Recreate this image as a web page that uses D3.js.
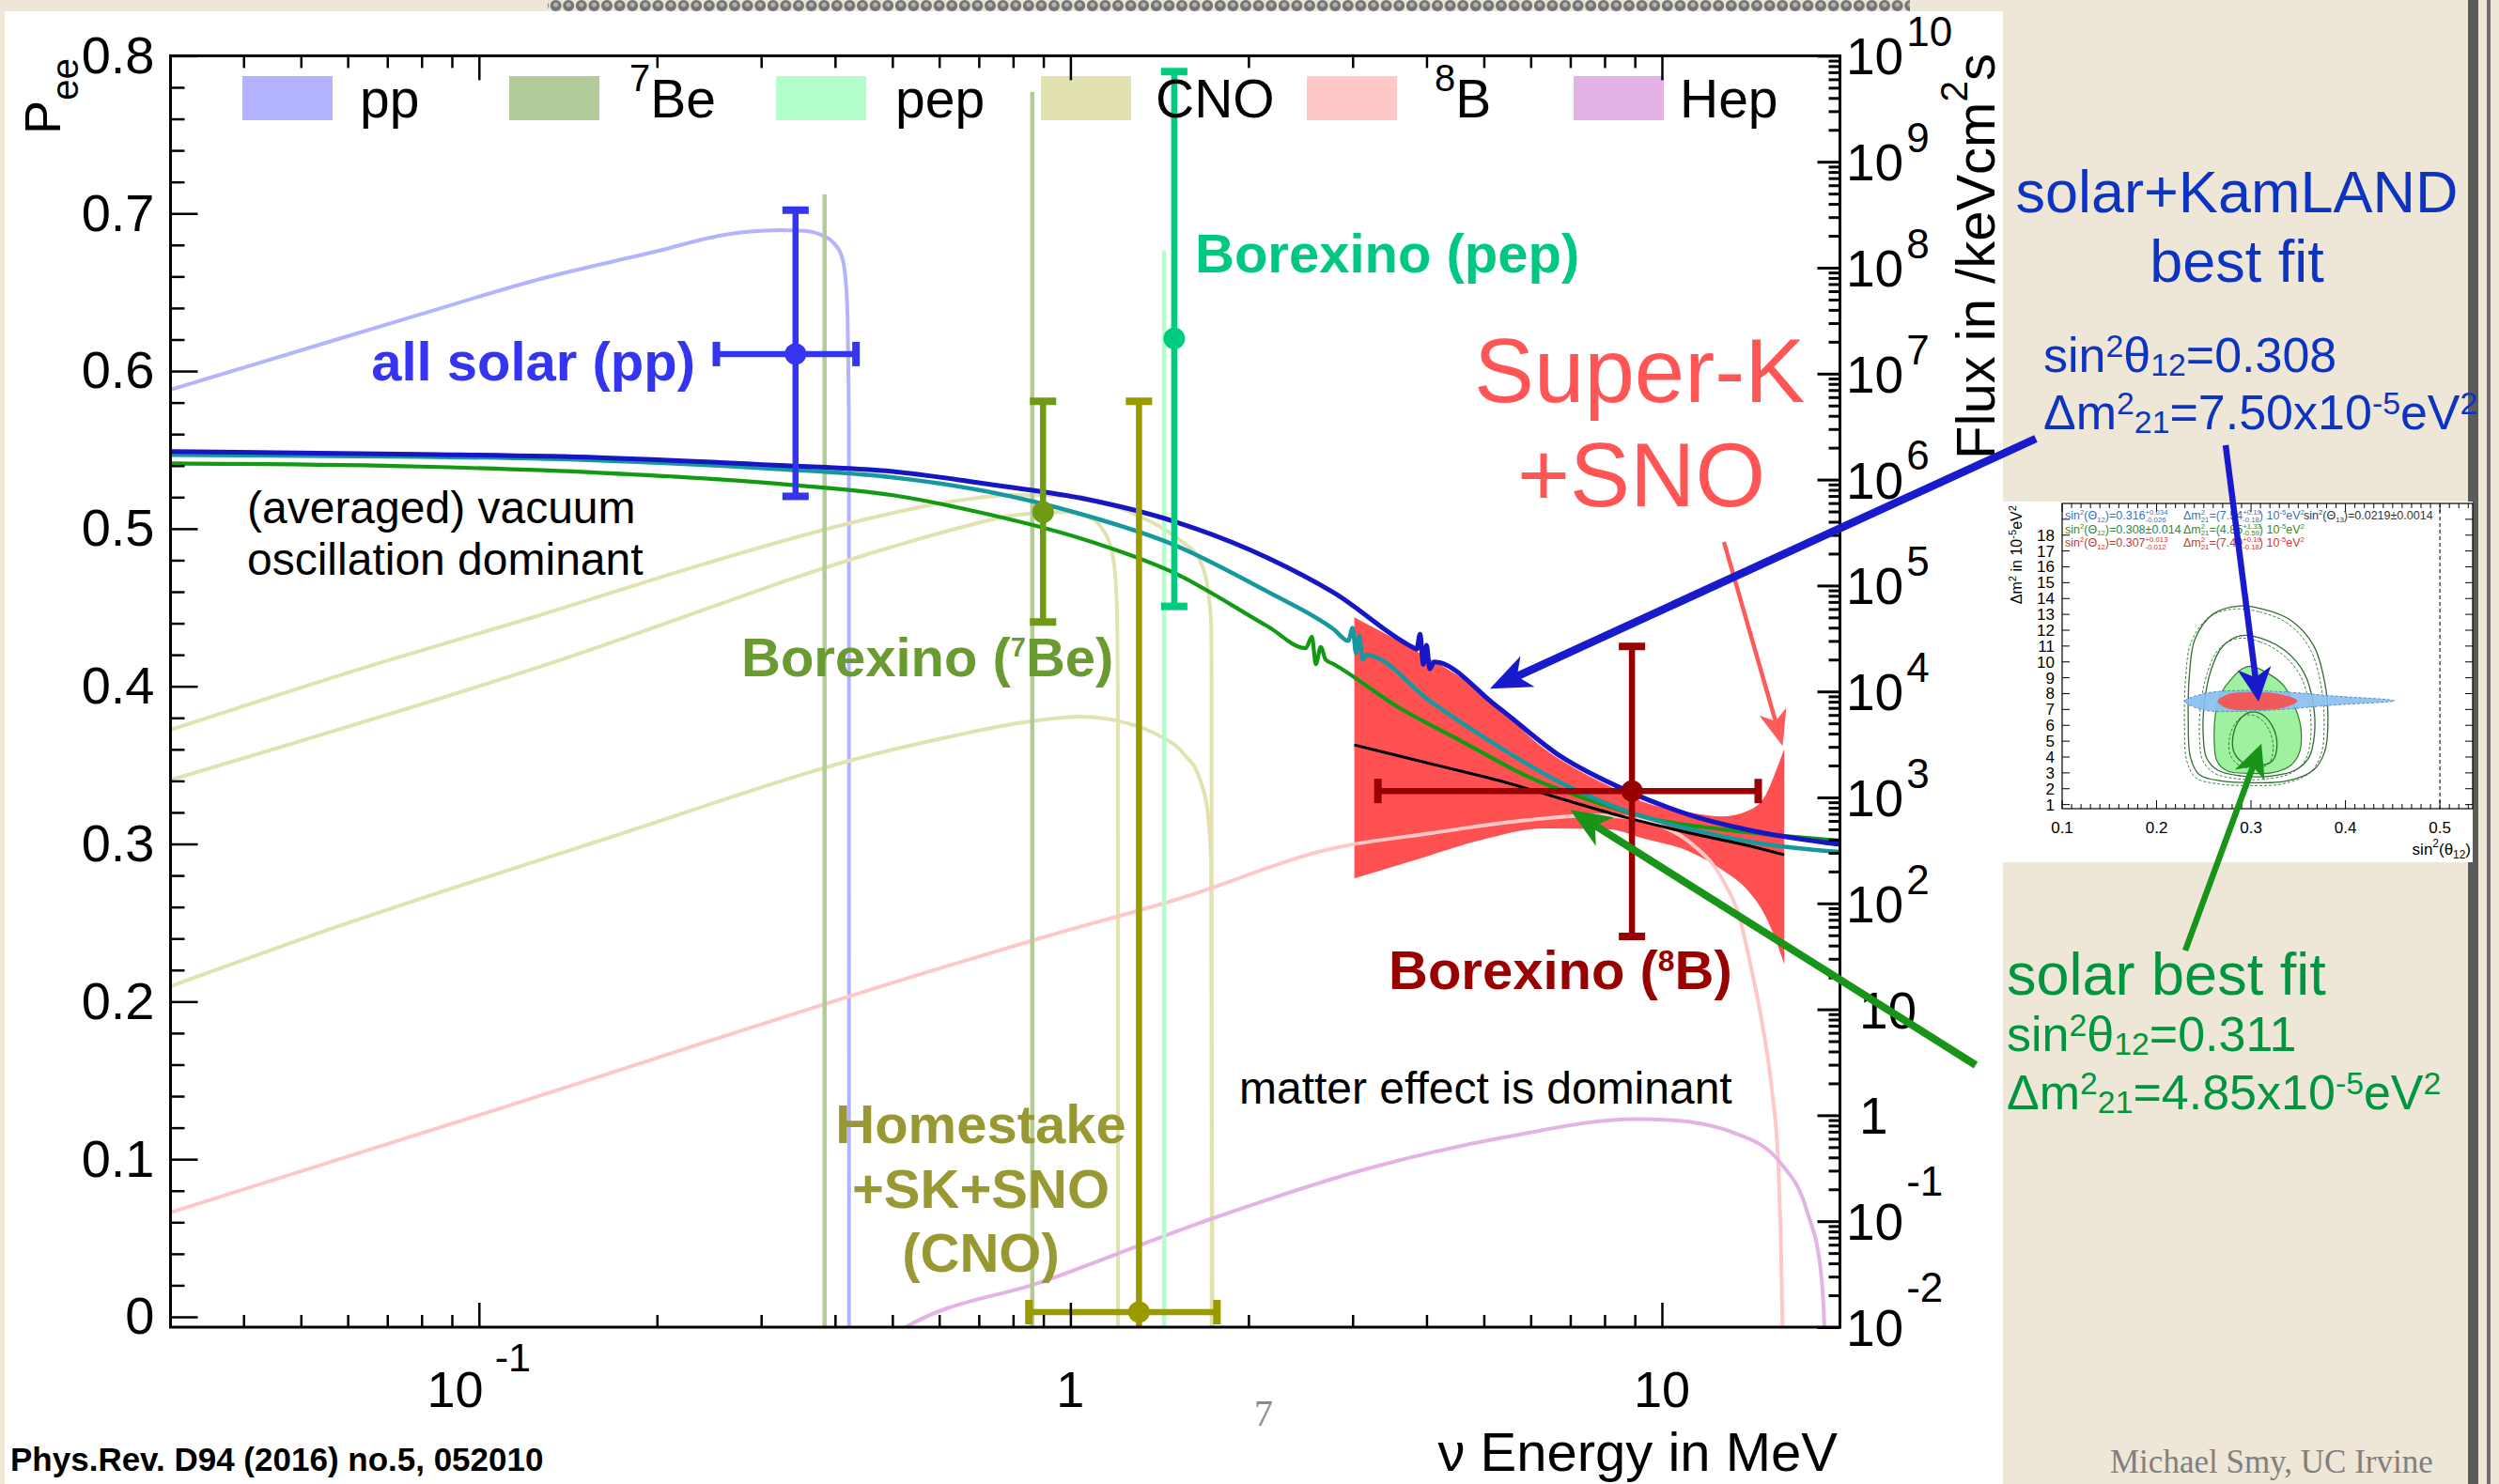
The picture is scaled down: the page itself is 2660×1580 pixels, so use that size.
<!DOCTYPE html>
<html>
<head>
<meta charset="utf-8">
<script src="https://cdn.jsdelivr.net/npm/d3@7"></script>
<style>
  html, body { margin: 0; padding: 0; background: #eee6d6; }
  svg { display: block; }
  text { white-space: pre; }
</style>
</head>
<body>
<svg id="chart" width="2660" height="1580"></svg>
<script>
// ---------------- data ----------------
// Solar neutrino flux spectra (right axis, /keV cm^2 s) versus energy (MeV)
const ppE      = [0.0301, 0.05, 0.0794, 0.127, 0.202, 0.255, 0.287, 0.322, 0.354, 0.379, 0.397, 0.410, 0.4164, 0.4200, 0.4215, 0.4222, 0.4225];
const ppFlux   = [7.05e6, 1.66e7, 3.61e7, 7.83e7, 1.45e8, 2.0e8, 2.19e8, 2.26e8, 2.23e8, 2.04e8, 1.73e8, 1.31e8, 8.15e7, 3.39e7, 8.6e6, 3.1e6, 1e-3];
const be7E     = [0.384, 0.862];
const be7Flux  = [4.91e8, 4.55e9];
const pepE     = [1.44];
const pepFlux  = [1.45e8];
const o15E     = [0.0301, 0.0671, 0.1268, 0.2413, 0.4175, 0.6017, 0.806, 1.004, 1.175, 1.41, 1.539, 1.656, 1.705, 1.730, 1.7325, 1.733];
const o15Flux  = [4.35e3, 1.82e4, 5.25e4, 1.61e5, 3.80e5, 5.96e5, 7.16e5, 7.01e5, 5.71e5, 3.65e5, 2.63e5, 1.71e5, 9.68e4, 4.28e4, 1.39e4, 1e-3];
const n13E     = [0.0301, 0.1268, 0.501, 0.640, 0.815, 0.978, 1.068, 1.132, 1.175, 1.192, 1.200, 1.203, 1.2035];
const n13Flux  = [1.46e3, 1.71e4, 2.33e5, 3.43e5, 4.66e5, 4.95e5, 4.48e5, 3.43e5, 2.10e5, 1.14e5, 4.46e4, 9.25e3, 1e-3];
const f17E     = [0.0301, 0.05, 0.1602, 0.501, 0.640, 0.815, 1.041, 1.25, 1.41, 1.556, 1.656, 1.705, 1.730, 1.741];
const f17Flux  = [16.5, 45.8, 391, 2.83e3, 3.85e3, 5.01e3, 5.78e3, 5.01e3, 3.85e3, 2.56e3, 1.47e3, 752, 235, 1e-3];
const b8E      = [0.0301, 0.1004, 0.6017, 0.899, 1.506, 2.79, 4.07, 5.95, 7.66, 8.67, 9.86, 11.16, 12.68, 13.5, 14.15, 14.78, 15.34, 15.73, 15.9, 16.0];
const b8Flux   = [0.121, 1.01, 24.4, 47.8, 108, 332, 460, 612, 679, 652, 553, 375, 166, 76.4, 24.8, 7.29, 1.75, 0.342, 0.0545, 0.0087];
const hepE     = [0.45, 0.5255, 0.899, 1.711, 3.245, 5.42, 9.06, 10.3, 13.3, 15.9, 17.62, 18.55, 18.82, 18.85];
const hepFlux  = [0.0055, 0.0099, 0.027, 0.103, 0.323, 0.62, 0.92, 0.90, 0.675, 0.35, 0.121, 0.0347, 0.0101, 0.001];

// Survival probability curves (left axis)
const kamlandE   = [0.0301, 0.0794, 0.160, 0.322, 0.501, 0.723, 1.041, 1.50, 2.16, 2.79, 3.82, 3.85, 3.90, 3.95, 4.00, 4.05, 4.12, 5.24, 6.74, 8.67, 11.2, 14.4, 20];
const kamlandPee = [0.5490, 0.5472, 0.5451, 0.5402, 0.5363, 0.5284, 0.5194, 0.5045, 0.4813, 0.4593, 0.4241, 0.4235, 0.433, 0.414, 0.426, 0.411, 0.4154, 0.3878, 0.3556, 0.3342, 0.3181, 0.3079, 0.2997];
const globalE    = [0.0301, 0.0794, 0.160, 0.322, 0.501, 0.723, 1.041, 1.50, 2.16, 2.79, 2.95, 3.0, 3.04, 3.08, 3.12, 3.16, 4.07, 5.24, 6.74, 8.67, 11.2, 14.4, 20];
const globalPee  = [0.5468, 0.5457, 0.5433, 0.5378, 0.5325, 0.5236, 0.5093, 0.4896, 0.4598, 0.4360, 0.4288, 0.437, 0.421, 0.432, 0.417, 0.4199, 0.3901, 0.3628, 0.3389, 0.3211, 0.3092, 0.3008, 0.2949];
const solarE     = [0.0301, 0.0794, 0.160, 0.322, 0.501, 0.723, 1.041, 1.50, 2.16, 2.5, 2.56, 2.6, 2.65, 2.7, 2.79, 3.59, 4.62, 5.95, 7.66, 9.86, 12.7, 16.3, 20];
const solarPee   = [0.5414, 0.5394, 0.5355, 0.5284, 0.5212, 0.5093, 0.4938, 0.4718, 0.4378, 0.4242, 0.4315, 0.414, 0.425, 0.417, 0.4140, 0.3866, 0.3645, 0.3425, 0.3270, 0.3151, 0.3092, 0.3049, 0.3020];
const skSnoE     = [3.02, 4.07, 5.24, 6.74, 8.67, 11.2, 14.4, 16.1];
const skSnoPee   = [0.3628, 0.3508, 0.3407, 0.3288, 0.3169, 0.3067, 0.2978, 0.2931];
// Super-K + SNO allowed band
const bandE  = [3.02, 3.82, 4.92, 6.33, 8.15, 9.25, 11.2, 12.7, 14.0, 14.95, 15.6, 16.1];
const bandHi = [0.4437, 0.4229, 0.3973, 0.3604, 0.3366, 0.3270, 0.3199, 0.3175, 0.3211, 0.3305, 0.3467, 0.3604];
const bandLo = [0.2781, 0.2897, 0.3022, 0.3098, 0.3092, 0.3037, 0.2947, 0.2831, 0.2701, 0.2545, 0.2385, 0.2234];

// Measurements
const measNames = ["pp", "7Be", "pep", "CNO", "8B"];
const measE   = [0.343, 0.899, 1.498, 1.306, 8.9];
const measELo = [0.252, null, null, 0.851, 3.31];
const measEHi = [0.434, null, null, 1.769, 14.55];
const measP   = [0.6108, 0.5105, 0.6207, 0.003, 0.3336];
const measPLo = [0.5205, 0.4408, 0.4507, -0.6, 0.2413];
const measPHi = [0.7021, 0.5808, 0.7899, 0.5808, 0.4253];

// Legend
const legendLabels = ["pp", "^{7}Be", "pep", "CNO", "^{8}B", "Hep"];
const legendColors = ["#b3b3ff", "#b3cb98", "#b3ffcc", "#e2e2b0", "#ffc8c8", "#e4b2e4"];

// Axis ticks
const pTicks = [0, 0.1, 0.2, 0.3, 0.4, 0.5, 0.6, 0.7, 0.8];
const pTickLabels = ["0", "0.1", "0.2", "0.3", "0.4", "0.5", "0.6", "0.7", "0.8"];
const energyTicks = [0.1, 1, 10];
const energyTickLabels = ["10^{-1}", "1", "10"];
const fluxExponents = [-2, -1, 0, 1, 2, 3, 4, 5, 6, 7, 8, 9, 10];
const fluxTickLabels = ["10^{-2}", "10^{-1}", "1", "10", "10^{2}", "10^{3}", "10^{4}", "10^{5}", "10^{6}", "10^{7}", "10^{8}", "10^{9}", "10^{10}"];

// Oscillation-parameter contours (inset): [sin^2 theta12, dm^2 in 1e-5 eV^2]
const insetSin2Ticks = [0.1, 0.2, 0.3, 0.4, 0.5];
const insetDm2Ticks = [1, 2, 3, 4, 5, 6, 7, 8, 9, 10, 11, 12, 13, 14, 15, 16, 17, 18];
const solarFill = [[0.2995, 9.72], [0.3178, 9.28], [0.3347, 8.50], [0.3467, 7.11], [0.3525, 5.93], [0.3516, 4.35], [0.3419, 3.47], [0.3227, 3.01], [0.2986, 2.97], [0.2745, 3.13], [0.2639, 3.76], [0.261, 5.14], [0.2624, 6.72], [0.2672, 7.90], [0.2817, 9.09], [0.2913, 9.58]];
const solar3s = [[0.2865, 13.52], [0.313, 13.33], [0.3419, 12.64], [0.366, 11.06], [0.3781, 8.69], [0.3814, 6.33], [0.3781, 4.35], [0.366, 3.17], [0.3371, 2.48], [0.3034, 2.38], [0.2696, 2.48], [0.2455, 2.87], [0.2359, 3.96], [0.2335, 6.33], [0.2349, 9.28], [0.2407, 11.45], [0.26, 13.03]];
const solar2s = [[0.2889, 11.65], [0.313, 11.45], [0.3371, 10.66], [0.3564, 9.28], [0.366, 7.31], [0.367, 5.34], [0.3612, 3.96], [0.3467, 3.17], [0.3178, 2.78], [0.2889, 2.81], [0.2648, 3.17], [0.2528, 3.96], [0.2494, 5.34], [0.2504, 7.31], [0.2576, 9.48], [0.2696, 10.96]];
const solar1s = [[0.2986, 6.82], [0.3106, 6.72], [0.3227, 5.93], [0.3275, 4.75], [0.3227, 3.76], [0.3082, 3.47], [0.2913, 3.66], [0.2817, 4.35], [0.2817, 5.54], [0.2889, 6.43]];
const kamlandFill = [[0.2301, 7.51], [0.2504, 8.0], [0.2889, 8.20], [0.3371, 8.10], [0.3853, 7.86], [0.4518, 7.55], [0.3853, 7.27], [0.3371, 7.02], [0.2889, 6.88], [0.2504, 6.96]];
const combinedFill = [[0.2648, 7.51], [0.2745, 7.94], [0.3034, 8.10], [0.3323, 7.94], [0.3492, 7.55], [0.3347, 7.11], [0.3034, 6.96], [0.2745, 7.07]];
const bestFitSin2 = [0.308, 0.311];   // solar+KamLAND, solar only
const bestFitDm2  = [7.50, 4.85];

// ---------------- drawing ----------------
const FONT = '"Liberation Sans", Arial, Helvetica, sans-serif';
const SERIF = '"Liberation Serif", "Times New Roman", serif';
const svg = d3.select("#chart");
const defs = svg.append("defs");

function parseRich(s) {
  const parts = []; const re = /([\^_])\{([^}]*)\}/g; let last = 0, m;
  while ((m = re.exec(s))) {
    if (m.index > last) parts.push({ t: s.slice(last, m.index) });
    parts.push({ t: m[2], sup: m[1] === "^", sub: m[1] === "_" });
    last = re.lastIndex;
  }
  if (last < s.length) parts.push({ t: s.slice(last) });
  return parts;
}
function richText(parent, str, x, y, o) {
  const t = parent.append("text").attr("x", x).attr("y", y)
    .attr("font-size", o.size).attr("fill", o.fill || "#000")
    .attr("font-weight", o.weight || "normal")
    .attr("text-anchor", o.anchor || "start")
    .attr("font-family", o.family || FONT);
  if (o.transform) t.attr("transform", o.transform);
  let cur = 0, prev = null;
  parseRich(str).forEach(p => {
    const ts = t.append("tspan").text(p.t);
    let target = 0, fs = o.size;
    if (p.sup) { target = -(o.supRise ?? 0.4) * o.size; fs = (o.supScale ?? 0.7) * o.size; }
    else if (p.sub) { target = (o.subDrop ?? 0.2) * o.size; fs = (o.subScale ?? 0.7) * o.size; }
    ts.attr("font-size", fs);
    if (target - cur !== 0) ts.attr("dy", target - cur);
    let dx = 0;
    if (p.sup && o.supDx) dx += o.supDx;
    if (p.sub && prev && prev.p.sup && o.stack) dx -= prev.node.getComputedTextLength();
    if (dx) ts.attr("dx", dx);
    cur = target; prev = { p, node: ts.node() };
  });
  return t;
}

// slide background, bead border and white panel
svg.append("rect").attr("width", 2660).attr("height", 1580).attr("fill", "#eee6d6");
const bead = defs.append("pattern").attr("id", "bead").attr("width", 13.6).attr("height", 14).attr("patternUnits", "userSpaceOnUse");
bead.append("circle").attr("cx", 6.8).attr("cy", 6).attr("r", 6).attr("fill", "#737373");
bead.append("circle").attr("cx", 6.8).attr("cy", 5).attr("r", 2.6).attr("fill", "#b5b5b5");
svg.append("rect").attr("x", 583).attr("y", 0).attr("width", 1450).attr("height", 13).attr("fill", "url(#bead)");
svg.append("rect").attr("x", 2627).attr("y", 0).attr("width", 11).attr("height", 1580).attr("fill", "#5b5b5b");
svg.append("rect").attr("x", 2647).attr("y", 0).attr("width", 4).attr("height", 1580).attr("fill", "#6e6e6e");
svg.append("rect").attr("x", 5).attr("y", 12).attr("width", 2127).attr("height", 1568).attr("fill", "#fff");

// scales
const X0 = 181.5, X1 = 1958.5, Y0 = 59.4, Y1 = 1413;
const x = d3.scaleLog().domain([0.0301, 20]).range([X0, X1]);
const yP = d3.scaleLinear().domain([0, 0.8]).range([1402, Y0]);
const yF = d3.scaleLog().domain([1e-2, 1e10]).range([Y1, Y0]);

defs.append("clipPath").attr("id", "plotClip").append("rect")
  .attr("x", X0).attr("y", Y0).attr("width", X1 - X0).attr("height", Y1 - Y0);
const plot = svg.append("g").attr("clip-path", "url(#plotClip)");

// Super-K + SNO band
const bandData = bandE.map((e, i) => ({ E: e, lo: bandLo[i], hi: bandHi[i] }));
plot.append("path").datum(bandData)
  .attr("d", d3.area().x(d => x(d.E)).y0(d => yP(d.lo)).y1(d => yP(d.hi)).curve(d3.curveMonotoneX))
  .attr("fill", "#ff5151");

// flux spectra
const fluxLine = d3.line().x(d => x(d[0])).y(d => yF(d[1])).curve(d3.curveMonotoneX);
const spectra = [
  [ppE, ppFlux, legendColors[0]],
  [o15E, o15Flux, legendColors[3]],
  [n13E, n13Flux, legendColors[3]],
  [f17E, f17Flux, legendColors[3]],
  [b8E, b8Flux, legendColors[4]],
  [hepE, hepFlux, legendColors[5]]
];
spectra.forEach(([E, F, c]) => {
  plot.append("path").datum(E.map((e, i) => [e, F[i]]))
    .attr("d", fluxLine).attr("fill", "none").attr("stroke", c).attr("stroke-width", 4);
});
be7E.forEach((e, i) => {
  plot.append("line").attr("x1", x(e)).attr("x2", x(e)).attr("y1", yF(be7Flux[i])).attr("y2", Y1)
    .attr("stroke", legendColors[1]).attr("stroke-width", 4.5);
});
pepE.forEach((e, i) => {
  plot.append("line").attr("x1", x(e)).attr("x2", x(e)).attr("y1", yF(pepFlux[i])).attr("y2", Y1)
    .attr("stroke", legendColors[2]).attr("stroke-width", 4.5);
});

// legend
const legendBoxX = [258, 542, 826, 1108, 1391, 1675];
const legendTextDx = [125, 128, 127, 122, 136, 113];
legendLabels.forEach((lab, i) => {
  svg.append("rect").attr("x", legendBoxX[i]).attr("y", 81).attr("width", 96).attr("height", 47).attr("fill", legendColors[i]);
  richText(svg, lab, legendBoxX[i] + legendTextDx[i], 125, { size: 57, supScale: 0.7, supRise: 0.5 });
});

// survival-probability curves
const peeLine = d3.line().x(d => x(d[0])).y(d => yP(d[1])).curve(d3.curveMonotoneX);
const peeCurves = [
  [solarE, solarPee, "#129a12", 4.2],
  [globalE, globalPee, "#16999e", 4.5],
  [kamlandE, kamlandPee, "#1616c4", 5],
  [skSnoE, skSnoPee, "#000", 3]
];
peeCurves.forEach(([E, P, c, w]) => {
  plot.append("path").datum(E.map((e, i) => [e, P[i]]))
    .attr("d", peeLine).attr("fill", "none").attr("stroke", c).attr("stroke-width", w);
});

// measurements with error bars
const measColors = ["#3535f0", "#6e9a14", "#00cc80", "#999900", "#990000"];
measNames.forEach((n, i) => {
  const c = measColors[i], cx = x(measE[i]), cy = yP(measP[i]);
  const g = plot.append("g").attr("stroke", c).attr("fill", c);
  g.append("line").attr("x1", cx).attr("x2", cx).attr("y1", yP(measPLo[i])).attr("y2", yP(measPHi[i])).attr("stroke-width", 6.5);
  [measPLo[i], measPHi[i]].forEach(p => {
    g.append("line").attr("x1", cx - 14).attr("x2", cx + 14).attr("y1", yP(p)).attr("y2", yP(p)).attr("stroke-width", 8);
  });
  if (measELo[i] !== null) {
    g.append("line").attr("x1", x(measELo[i])).attr("x2", x(measEHi[i])).attr("y1", cy).attr("y2", cy).attr("stroke-width", 6.5);
    [measELo[i], measEHi[i]].forEach(e => {
      g.append("line").attr("x1", x(e)).attr("x2", x(e)).attr("y1", cy - 13).attr("y2", cy + 13).attr("stroke-width", 8);
    });
  }
  g.append("circle").attr("cx", cx).attr("cy", cy).attr("r", 11.5).attr("stroke", "none");
});

// frame and axes
svg.append("rect").attr("x", X0).attr("y", Y0).attr("width", X1 - X0).attr("height", Y1 - Y0)
  .attr("fill", "none").attr("stroke", "#000").attr("stroke-width", 3);

function styleAxis(g) {
  g.select(".domain").remove();
  g.selectAll("line").attr("stroke", "#000").attr("stroke-width", 2.5);
}
const pMinor = d3.range(0, 0.8001, 0.02).filter(v => Math.abs(v * 10 - Math.round(v * 10)) > 1e-6);
const eMinor = [];
[0.01, 0.1, 1].forEach(d => { for (let m = 2; m <= 9; m++) { const v = m * d; if (v >= 0.0301 && v <= 20) eMinor.push(v); } });
const fMinor = [];
fluxExponents.slice(0, -1).forEach(k => { for (let m = 2; m <= 9; m++) fMinor.push(m * Math.pow(10, k)); });
const fMajor = fluxExponents.map(k => Math.pow(10, k));

svg.append("g").attr("transform", `translate(${X0},0)`)
  .call(d3.axisLeft(yP).tickValues(pTicks).tickSize(-29).tickPadding(17).tickFormat((d, i) => pTickLabels[i]))
  .call(styleAxis)
  .call(g => g.selectAll("text").attr("font-size", 56).attr("font-family", FONT).attr("fill", "#000"));
svg.append("g").attr("transform", `translate(${X0},0)`)
  .call(d3.axisLeft(yP).tickValues(pMinor).tickSize(-15).tickFormat("")).call(styleAxis);
svg.append("g").attr("transform", `translate(0,${Y1})`)
  .call(d3.axisBottom(x).tickValues(energyTicks).tickSize(-26).tickFormat("")).call(styleAxis);
svg.append("g").attr("transform", `translate(0,${Y1})`)
  .call(d3.axisBottom(x).tickValues(eMinor).tickSize(-13).tickFormat("")).call(styleAxis);
svg.append("g").attr("transform", `translate(0,${Y0})`)
  .call(d3.axisTop(x).tickValues(energyTicks).tickSize(-26).tickFormat("")).call(styleAxis);
svg.append("g").attr("transform", `translate(0,${Y0})`)
  .call(d3.axisTop(x).tickValues(eMinor).tickSize(-13).tickFormat("")).call(styleAxis);
svg.append("g").attr("transform", `translate(${X1},0)`)
  .call(d3.axisRight(yF).tickValues(fMajor).tickSize(-24).tickFormat("")).call(styleAxis)
  .call(g => g.selectAll("line").attr("stroke-width", 3));
svg.append("g").attr("transform", `translate(${X1},0)`)
  .call(d3.axisRight(yF).tickValues(fMinor).tickSize(-12).tickFormat("")).call(styleAxis)
  .call(g => g.selectAll("line").attr("stroke-width", 3));

energyTicks.forEach((v, i) => {
  richText(svg, energyTickLabels[i], x(v), 1498, { size: 54, anchor: "middle", supScale: 0.8, supRise: 0.7, supDx: 12 });
});
fluxExponents.forEach((k, i) => {
  const lab = fluxTickLabels[i];
  const hasSup = lab.includes("^");
  richText(svg, lab, hasSup ? 1965 : 1979, yF(Math.pow(10, k)) + 20,
    { size: 55, supScale: 0.8, supRise: k < 0 ? 0.85 : 0.55, supDx: 3 });
});

// axis titles
richText(svg, "P_{ee}", 0, 0, { size: 54, anchor: "end", subScale: 0.75, subDrop: 0.35, transform: "translate(64,62) rotate(-90)" });
richText(svg, "Flux in /keVcm^{2}s", 0, 0, { size: 58, anchor: "end", supScale: 0.7, supRise: 0.5, transform: "translate(2123,57) rotate(-90)" });
richText(svg, "ν Energy in MeV", 1956, 1566, { size: 58, anchor: "end" });

// annotations inside the plot
richText(svg, "all solar (pp)", 740, 405, { size: 58, weight: "bold", fill: "#3535f0", anchor: "end" });
richText(svg, "Borexino (pep)", 1272, 290, { size: 58, weight: "bold", fill: "#00c880" });
richText(svg, "Borexino (^{7}Be)", 789, 720, { size: 58, weight: "bold", fill: "#6a9a32", supScale: 0.5, supRise: 0.37 });
richText(svg, "Borexino (^{8}B)", 1478, 1053, { size: 58, weight: "bold", fill: "#990000", supScale: 0.55, supRise: 0.33 });
richText(svg, "Homestake", 1044, 1217, { size: 58, weight: "bold", fill: "#999933", anchor: "middle" });
richText(svg, "+SK+SNO", 1044, 1286, { size: 58, weight: "bold", fill: "#999933", anchor: "middle" });
richText(svg, "(CNO)", 1044, 1354, { size: 58, weight: "bold", fill: "#999933", anchor: "middle" });
richText(svg, "(averaged) vacuum", 263, 557, { size: 48 });
richText(svg, "oscillation dominant", 263, 612, { size: 48 });
richText(svg, "matter effect is dominant", 1319, 1175, { size: 48 });
richText(svg, "Super-K", 1569, 428, { size: 96, fill: "#ff5555" });
richText(svg, "+SNO", 1615, 539, { size: 96, fill: "#ff5555" });

// slide texts
richText(svg, "Phys.Rev. D94 (2016) no.5, 052010", 11, 1566, { size: 35, weight: "bold" });
richText(svg, "7", 1345, 1518, { size: 40, family: SERIF, fill: "#8a8a8a", anchor: "middle" });
richText(svg, "Michael Smy, UC Irvine", 2246, 1568, { size: 35, family: SERIF, fill: "#808080" });

const blueTxt = "#0d33c2", greenTxt = "#009640";
const ppt = { supScale: 0.65, supRise: 0.3, subScale: 0.65, subDrop: 0.08 };
richText(svg, "solar+KamLAND", 2381, 226, { size: 63, fill: blueTxt, anchor: "middle" });
richText(svg, "best fit", 2381, 300, { size: 63, fill: blueTxt, anchor: "middle" });
richText(svg, "sin^{2}θ_{12}=0.308", 2175, 396, Object.assign({ size: 52, fill: blueTxt }, ppt));
richText(svg, "Δm^{2}_{21}=7.50x10^{-5}eV^{2}", 2175, 457, Object.assign({ size: 52, fill: blueTxt }, ppt));
richText(svg, "solar best fit", 2136, 1059, { size: 63, fill: greenTxt });
richText(svg, "sin^{2}θ_{12}=0.311", 2136, 1119, Object.assign({ size: 52, fill: greenTxt }, ppt));
richText(svg, "Δm^{2}_{21}=4.85x10^{-5}eV^{2}", 2136, 1181, Object.assign({ size: 52, fill: greenTxt }, ppt));

// ---------------- inset: oscillation parameter contours ----------------
const IX0 = 2195, IX1 = 2632, IY0 = 536, IY1 = 861;
svg.append("rect").attr("x", 2132).attr("y", 534).attr("width", 500).attr("height", 384).attr("fill", "#fff");
const xi = d3.scaleLinear().domain([0.1, 0.5347]).range([IX0, IX1]);
const yi = d3.scaleLinear().domain([0.74, 20]).range([IY1, IY0]);
defs.append("clipPath").attr("id", "insetClip").append("rect")
  .attr("x", IX0).attr("y", IY0).attr("width", IX1 - IX0).attr("height", IY1 - IY0);
const inset = svg.append("g").attr("clip-path", "url(#insetClip)");
const closed = d3.line().x(d => xi(d[0])).y(d => yi(d[1])).curve(d3.curveCatmullRomClosed.alpha(0.5));
inset.append("path").datum(solarFill).attr("d", closed).attr("fill", "#9ff09f").attr("stroke", "#2f7f2f").attr("stroke-width", 1.2);
[solar3s, solar2s, solar1s].forEach(c => {
  inset.append("path").datum(c).attr("d", closed).attr("fill", "none").attr("stroke", "#2f6f2f").attr("stroke-width", 1.3);
  inset.append("path").datum(c).attr("d", closed).attr("fill", "none").attr("stroke", "#2f6f2f").attr("stroke-width", 0.9)
    .attr("stroke-dasharray", "3,2").attr("transform", `translate(-4,3)`);
});
inset.append("path").datum(kamlandFill).attr("d", closed).attr("fill", "#86bff0").attr("fill-opacity", 0.9)
  .attr("stroke", "#5a8fc8").attr("stroke-width", 1).attr("stroke-dasharray", "3,2");
inset.append("path").datum(combinedFill).attr("d", closed).attr("fill", "#f05a5a");
inset.append("line").attr("x1", xi(0.5)).attr("x2", xi(0.5)).attr("y1", IY0).attr("y2", IY1)
  .attr("stroke", "#000").attr("stroke-width", 1).attr("stroke-dasharray", "4,3");
svg.append("rect").attr("x", IX0).attr("y", IY0).attr("width", IX1 - IX0).attr("height", IY1 - IY0)
  .attr("fill", "none").attr("stroke", "#000").attr("stroke-width", 1.2);
const iTicks = svg.append("g").attr("stroke", "#000").attr("stroke-width", 1);
d3.range(0.1, 0.535, 0.01).forEach(v => {
  const L = Math.abs(v * 10 - Math.round(v * 10)) < 1e-6 ? 9 : 5;
  iTicks.append("line").attr("x1", xi(v)).attr("x2", xi(v)).attr("y1", IY1).attr("y2", IY1 - L);
  iTicks.append("line").attr("x1", xi(v)).attr("x2", xi(v)).attr("y1", IY0).attr("y2", IY0 + L);
});
d3.range(1, 20, 1).forEach(v => {
  iTicks.append("line").attr("x1", IX0).attr("x2", IX0 + 8).attr("y1", yi(v)).attr("y2", yi(v));
  iTicks.append("line").attr("x1", IX1).attr("x2", IX1 - 8).attr("y1", yi(v)).attr("y2", yi(v));
});
insetDm2Ticks.forEach(v => richText(svg, String(v), 2187, yi(v) + 6, { size: 17, anchor: "end" }));
insetSin2Ticks.forEach(v => richText(svg, v.toFixed(1), xi(v), 887, { size: 17, anchor: "middle" }));
richText(svg, "sin^{2}(θ_{12})", 2630, 910, { size: 17, anchor: "end", supScale: 0.7, supRise: 0.45, subScale: 0.7, subDrop: 0.25 });
richText(svg, "Δm^{2} in 10^{-5}eV^{2}", 0, 0, { size: 16, anchor: "end", supScale: 0.7, supRise: 0.4, transform: "translate(2152,538) rotate(-90)" });
const inTxt = { size: 12.5, supScale: 0.62, supRise: 0.38, subScale: 0.62, subDrop: 0.22, stack: true };
const insetRows = [
  ["#3f6fb5", "sin^{2}(Θ_{12})=0.316^{+0.034}_{-0.026}", "Δm^{2}_{21}=(7.54^{+0.19}_{-0.18}) 10^{-5}eV^{2}"],
  ["#2e8b2e", "sin^{2}(Θ_{12})=0.308±0.014", "Δm^{2}_{21}=(4.85^{+1.33}_{-0.59}) 10^{-5}eV^{2}"],
  ["#cc3333", "sin^{2}(Θ_{12})=0.307^{+0.013}_{-0.012}", "Δm^{2}_{21}=(7.49^{+0.19}_{-0.18}) 10^{-5}eV^{2}"]
];
insetRows.forEach((r, i) => {
  richText(svg, r[1], 2198, 553 + i * 14.5, Object.assign({ fill: r[0] }, inTxt));
  richText(svg, r[2], 2324, 553 + i * 14.5, Object.assign({ fill: r[0] }, inTxt));
});
richText(svg, "sin^{2}(Θ_{13})=0.0219±0.0014", 2452, 553, Object.assign({ fill: "#333" }, inTxt));

// ---------------- pointer arrows ----------------
function arrow(x1, y1, x2, y2, color, w, L, W) {
  const dx = x2 - x1, dy = y2 - y1, len = Math.hypot(dx, dy);
  const ux = dx / len, uy = dy / len, px = -uy, py = ux;
  const bx = x2 - ux * L, by = y2 - uy * L;
  const nx = x2 - ux * L * 0.72, ny = y2 - uy * L * 0.72;
  svg.append("line").attr("x1", x1).attr("y1", y1).attr("x2", nx).attr("y2", ny)
    .attr("stroke", color).attr("stroke-width", w);
  svg.append("path").attr("d", `M${x2},${y2}L${bx + px * W},${by + py * W}L${nx},${ny}L${bx - px * W},${by - py * W}Z`)
    .attr("fill", color);
}
arrow(1835, 577, x(16.0), yP(0.3622), "#ff5a5a", 4.5, 38, 15);
arrow(2167, 467, x(5.12), yP(0.3985), "#1a1acd", 8.5, 44, 18);
arrow(2103, 1134, x(6.99), yP(0.3217), "#189418", 8, 44, 18);
arrow(2369, 474, xi(bestFitSin2[0]), yi(bestFitDm2[0]), "#1a1acd", 6.5, 36, 18);
arrow(2326, 1012, xi(bestFitSin2[1]), yi(bestFitDm2[1]), "#189418", 6.5, 36, 17);
</script>
</body>
</html>
